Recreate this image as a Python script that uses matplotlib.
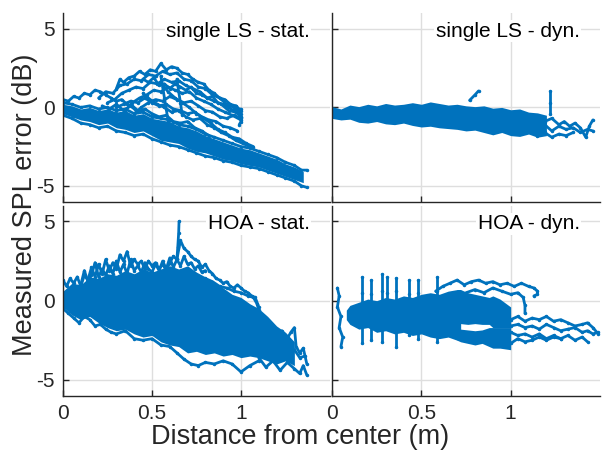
import matplotlib
matplotlib.use("Agg")
import matplotlib.pyplot as plt

plt.rcParams["font.family"] = ["Liberation Sans", "DejaVu Sans"]

BLUE = "#0072BD"

# ---------------- single LS - stat. ----------------
sls_stat_core_x = [0.00, 0.05, 0.10, 0.15, 0.20, 0.25, 0.30, 0.35, 0.40, 0.45, 0.50, 0.55, 0.60, 0.65,
                   0.70, 0.75, 0.80, 0.85, 0.90, 0.95, 1.00, 1.05, 1.10, 1.15, 1.20, 1.25, 1.30, 1.35]
sls_stat_core_hi = [0.2, 0.1, -0.1, 0.0, -0.2, -0.1, -0.3, -0.2, -0.5, -0.4, -0.7, -0.8, -0.9, -1.2,
                    -1.3, -1.5, -1.8, -2.0, -2.2, -2.4, -2.6, -2.7, -2.9, -3.1, -3.3, -3.6, -3.8, -4.1]
sls_stat_core_lo = [-0.4, -0.6, -0.8, -0.9, -1.1, -1.0, -1.3, -1.4, -1.6, -1.5, -1.8, -2.1, -2.2, -2.3,
                    -2.6, -2.8, -2.9, -3.1, -3.3, -3.4, -3.6, -3.7, -3.8, -4.0, -4.2, -4.4, -4.6, -4.8]

sls_stat_traces = [
    # lower band edges
    ([0.00, 0.05, 0.10, 0.15, 0.20, 0.25, 0.30, 0.35, 0.40, 0.45, 0.50, 0.55, 0.60, 0.65, 0.70,
      0.75, 0.80, 0.85, 0.90, 0.95, 1.00, 1.05, 1.10, 1.15, 1.20, 1.25, 1.30, 1.34, 1.37],
     [-0.5, -0.7, -1.0, -1.1, -1.3, -1.2, -1.5, -1.6, -1.8, -1.7, -2.0, -2.2, -2.4, -2.5, -2.7,
      -2.9, -3.1, -3.2, -3.4, -3.5, -3.7, -3.8, -3.9, -4.1, -4.3, -4.5, -4.7, -5.0, -5.1]),
    ([0.00, 0.05, 0.10, 0.15, 0.20, 0.25, 0.30, 0.35, 0.40, 0.45, 0.50, 0.55, 0.60, 0.65, 0.70,
      0.75, 0.80, 0.85, 0.90, 0.95, 1.00, 1.05, 1.10, 1.15, 1.20, 1.25, 1.30, 1.34, 1.37],
     [0.3, 0.2, 0.0, 0.1, -0.1, 0.0, -0.2, -0.1, -0.4, -0.3, -0.6, -0.7, -0.8, -1.1, -1.2,
      -1.4, -1.7, -1.9, -2.1, -2.3, -2.5, -2.6, -2.8, -3.0, -3.2, -3.5, -3.7, -4.0, -4.0]),
    # upper loop
    ([0.30, 0.32, 0.34, 0.37, 0.40, 0.43, 0.46, 0.49, 0.52, 0.55, 0.58, 0.61, 0.64, 0.67, 0.70,
      0.73, 0.76, 0.79, 0.82, 0.85, 0.88, 0.91, 0.94, 0.97, 1.00],
     [1.2, 1.8, 1.6, 1.9, 2.0, 2.3, 2.1, 2.4, 2.3, 2.8, 2.4, 2.6, 2.5, 2.2, 2.1,
      1.8, 1.6, 1.5, 1.1, 0.9, 0.6, 0.5, 0.2, 0.1, -0.2]),
    ([0.20, 0.24, 0.28, 0.32, 0.36, 0.40, 0.44, 0.48, 0.52, 0.56, 0.60, 0.64, 0.68, 0.72, 0.76,
      0.80, 0.84, 0.88, 0.92, 0.96, 1.00],
     [0.6, 1.0, 0.9, 1.4, 1.5, 1.8, 1.7, 2.1, 2.0, 2.3, 2.1, 2.2, 1.8, 1.7, 1.3,
      1.2, 0.8, 0.6, 0.2, 0.0, -0.4]),
    ([0.45, 0.48, 0.51, 0.54, 0.57, 0.60, 0.63, 0.66, 0.69, 0.72, 0.75, 0.78, 0.81, 0.84, 0.87,
      0.90, 0.93, 0.96, 1.00],
     [1.8, 1.6, 1.9, 1.4, 1.5, 1.2, 1.5, 1.3, 1.1, 1.3, 0.9, 0.8, 0.6, 0.7, 0.3,
      0.2, 0.0, -0.2, -0.1]),
    ([0.25, 0.29, 0.33, 0.37, 0.41, 0.45, 0.49, 0.53, 0.57, 0.61, 0.65, 0.69, 0.73, 0.77, 0.81,
      0.85, 0.89, 0.93, 0.97, 1.00],
     [0.3, 0.5, 0.9, 1.1, 1.3, 1.2, 1.6, 1.5, 1.8, 1.6, 1.7, 1.4, 1.2, 1.0, 0.6,
      0.4, 0.2, -0.2, -0.3, -0.6]),
    ([0.35, 0.39, 0.43, 0.47, 0.51, 0.55, 0.59, 0.63, 0.67, 0.71, 0.75, 0.79, 0.83, 0.87, 0.91,
      0.95, 1.00],
     [-0.2, 0.3, 0.6, 0.8, 1.1, 1.0, 1.3, 1.1, 0.9, 1.0, 0.6, 0.4, 0.2, -0.1, -0.3,
      -0.5, -0.8]),
    ([0.40, 0.44, 0.48, 0.52, 0.56, 0.60, 0.64, 0.68, 0.72, 0.76, 0.80, 0.84, 0.88, 0.92, 0.96, 1.00],
     [-0.4, 0.0, 0.3, 0.5, 0.4, 0.7, 0.5, 0.3, 0.4, 0.1, -0.2, -0.3, -0.6, -0.7, -0.5, -0.7]),
    ([0.30, 0.34, 0.38, 0.42, 0.46, 0.50, 0.54, 0.58, 0.62, 0.66, 0.70, 0.74, 0.78, 0.82, 0.86,
      0.90, 0.94, 0.98],
     [0.0, 0.2, 0.4, 0.3, 0.6, 0.3, 0.1, 0.2, -0.1, -0.2, -0.4, -0.3, -0.6, -0.8, -0.9,
      -1.2, -1.3, -1.5]),
    ([0.22, 0.26, 0.30, 0.34, 0.38, 0.42, 0.46, 0.50, 0.54, 0.58, 0.62, 0.66, 0.70, 0.74, 0.78, 0.82],
     [0.1, -0.1, 0.2, -0.2, 0.1, -0.3, -0.1, -0.4, -0.6, -0.5, -0.9, -1.0, -0.9, -1.3, -1.5, -1.8]),
    ([0.45, 0.49, 0.53, 0.57, 0.61, 0.65, 0.69, 0.73, 0.77, 0.81, 0.85, 0.89, 0.93, 0.97, 1.01, 1.05],
     [0.9, 0.5, 0.2, 0.0, -0.3, -0.2, -0.6, -0.8, -0.7, -1.1, -1.3, -1.6, -1.8, -2.1, -2.3, -2.5]),
    ([0.55, 0.59, 0.63, 0.67, 0.71, 0.75, 0.79, 0.83, 0.87, 0.91, 0.95, 0.99, 1.03, 1.07],
     [1.6, 1.0, 0.6, 0.3, 0.0, -0.4, -0.7, -1.0, -1.4, -1.6, -1.9, -2.0, -2.3, -2.5]),
    ([0.00, 0.03, 0.06, 0.09, 0.12, 0.15, 0.18, 0.21, 0.24, 0.27, 0.30, 0.33, 0.36, 0.39, 0.42],
     [0.5, 0.4, 0.7, 0.6, 0.9, 0.8, 1.1, 1.0, 0.8, 0.6, 0.4, 0.5, 0.2, 0.1, -0.2]),
    ([0.55, 0.56, 0.57, 0.58, 0.59, 0.60], [2.0, 1.3, 0.6, -0.1, -0.8, -1.4]),
    ([0.64, 0.65, 0.66, 0.67], [1.8, 1.0, 0.3, -0.5]),
    ([0.97, 0.99, 1.00, 1.00, 0.99], [0.1, -0.3, -0.6, -0.9, -1.1]),
]

# ---------------- single LS - dyn. ----------------
sls_dyn_core_x = [0.00, 0.05, 0.10, 0.15, 0.20, 0.25, 0.30, 0.35, 0.40, 0.45, 0.50, 0.55, 0.60,
                  0.65, 0.70, 0.75, 0.80, 0.85, 0.90, 0.95, 1.00, 1.05, 1.10, 1.15, 1.20]
sls_dyn_core_hi = [0.05, -0.10, 0.15, 0.05, 0.20, 0.10, 0.25, 0.15, 0.20, 0.30, 0.20, 0.35, 0.25,
                   0.15, 0.20, 0.10, 0.05, 0.10, -0.05, 0.00, -0.15, -0.10, -0.30, -0.35, -0.50]
sls_dyn_core_lo = [-0.70, -0.80, -0.75, -0.95, -1.00, -0.90, -1.05, -1.10, -1.00, -1.15, -1.25, -1.20, -1.30,
                   -1.35, -1.40, -1.50, -1.45, -1.60, -1.75, -1.60, -1.80, -1.85, -1.70, -1.90, -1.80]

sls_dyn_traces = [
    ([1.15, 1.19, 1.23, 1.27, 1.30, 1.33, 1.36, 1.39, 1.42, 1.44, 1.46],
     [-0.6, -0.9, -0.7, -1.1, -0.9, -1.2, -1.0, -1.3, -1.9, -1.2, -0.8]),
    ([1.15, 1.19, 1.23, 1.27, 1.31, 1.35, 1.39, 1.43, 1.46],
     [-1.3, -1.1, -1.5, -1.2, -1.4, -1.3, -1.6, -1.4, -1.5]),
    ([1.15, 1.19, 1.23, 1.27, 1.31, 1.35],
     [-1.8, -1.6, -1.9, -1.7, -1.8, -1.6]),
    ([0.77, 0.80, 0.82], [0.45, 0.80, 1.05]),
    ([1.22, 1.22, 1.22], [1.05, 0.30, -0.40]),
]

# ---------------- HOA - stat. ----------------
hoa_stat_core_x = [0.00, 0.05, 0.10, 0.15, 0.20, 0.25, 0.30, 0.35, 0.40, 0.45, 0.50, 0.55, 0.60, 0.65,
                   0.70, 0.75, 0.80, 0.85, 0.90, 0.95, 1.00, 1.05, 1.10, 1.15, 1.20, 1.25, 1.30]
hoa_stat_core_hi = [0.6, 1.1, 1.0, 1.5, 1.4, 1.7, 1.6, 1.9, 1.7, 2.0, 1.8, 2.0, 2.2, 2.0,
                    2.2, 1.8, 1.5, 1.1, 0.8, 0.4, 0.2, -0.2, -0.5, -1.0, -1.6, -2.0, -2.6]
hoa_stat_core_lo = [-0.4, -0.9, -1.2, -1.0, -1.4, -1.7, -1.9, -1.8, -2.1, -2.3, -2.2, -2.6, -2.8, -2.9,
                    -3.3, -3.2, -3.4, -3.3, -3.5, -3.4, -3.6, -3.5, -3.6, -3.8, -4.0, -3.8, -4.1]

hoa_stat_traces = [
    ([0.00, 0.02, 0.04, 0.06, 0.08, 0.10, 0.12, 0.14, 0.16, 0.18, 0.20, 0.22, 0.24, 0.26, 0.28, 0.30,
      0.32, 0.34, 0.36, 0.38, 0.40, 0.42, 0.44, 0.46, 0.48, 0.50, 0.52, 0.54, 0.56, 0.58, 0.60],
     [1.3, 0.9, 1.4, 1.1, 1.5, 0.9, 1.6, 1.3, 2.1, 1.5, 2.3, 1.7, 2.6, 1.9, 2.4, 2.0,
      2.9, 2.5, 3.1, 2.2, 2.6, 2.3, 2.5, 2.0, 2.5, 2.2, 2.4, 2.0, 2.3, 1.9, 2.4]),
    ([0.10, 0.12, 0.14, 0.16, 0.18, 0.20, 0.22, 0.24, 0.26, 0.28, 0.30, 0.32, 0.34, 0.36, 0.38, 0.40,
      0.42, 0.44, 0.46, 0.48, 0.50, 0.52, 0.54, 0.56, 0.58, 0.60, 0.62, 0.64, 0.66, 0.68, 0.70, 0.72,
      0.74, 0.76, 0.78, 0.80],
     [1.0, 1.9, 1.2, 1.6, 2.4, 1.5, 2.0, 1.6, 2.2, 1.7, 2.5, 1.8, 2.3, 1.7, 2.6, 1.9,
      2.2, 1.8, 2.4, 2.0, 1.8, 2.3, 1.9, 2.5, 2.0, 2.7, 2.1, 2.6, 2.2, 2.8, 2.3, 2.4,
      2.0, 2.2, 1.8, 1.9]),
    ([0.60, 0.62, 0.64, 0.66, 0.68, 0.70, 0.72, 0.74, 0.76, 0.78, 0.80, 0.82, 0.84, 0.86, 0.88, 0.90,
      0.92, 0.94, 0.96, 0.98, 1.00, 1.02, 1.04, 1.06, 1.08, 1.10],
     [2.4, 2.8, 2.6, 3.8, 3.3, 3.1, 2.8, 2.6, 2.5, 2.1, 2.3, 1.9, 1.7, 1.4, 1.3, 1.1,
      1.2, 0.9, 0.8, 1.0, 0.8, 0.6, 0.5, 0.3, 0.2, -0.4]),
    ([0.640, 0.645, 0.650, 0.652], [2.6, 3.4, 4.3, 5.0]),
    ([0.80, 0.84, 0.88, 0.92, 0.96, 1.00, 1.04, 1.07, 1.09, 1.10, 1.11],
     [1.4, 1.2, 0.9, 0.8, 0.6, 0.5, 0.3, 0.2, -0.2, -0.6, -1.0]),
    ([1.05, 1.08, 1.11, 1.14, 1.17, 1.20, 1.23, 1.26, 1.28, 1.30, 1.31, 1.33, 1.35, 1.37],
     [-0.8, -1.2, -1.0, -1.7, -1.5, -2.1, -1.9, -2.4, -2.0, -1.7, -2.9, -3.3, -3.0, -4.0]),
    ([1.10, 1.14, 1.18, 1.22, 1.26, 1.30, 1.33, 1.35, 1.37],
     [-3.6, -4.2, -3.8, -4.4, -3.9, -4.3, -4.6, -4.1, -4.7]),
    ([1.15, 1.19, 1.23, 1.27, 1.30, 1.33, 1.36],
     [-2.6, -3.0, -2.8, -3.3, -3.1, -3.6, -3.5]),
    ([0.00, 0.03, 0.06, 0.09, 0.12, 0.15, 0.18, 0.21, 0.24, 0.27, 0.30, 0.35, 0.40, 0.45,
      0.50, 0.55, 0.60, 0.64, 0.68, 0.72, 0.76, 0.80, 0.85, 0.90, 0.95, 1.00, 1.05, 1.10],
     [-0.5, -0.8, -1.1, -1.4, -1.0, -1.2, -1.6, -1.5, -1.8, -2.0, -2.1, -1.9, -2.4, -2.5,
      -2.4, -2.8, -2.9, -3.3, -3.7, -4.0, -4.1, -3.9, -4.0, -3.8, -4.0, -4.5, -4.1, -3.8]),
]

# ---------------- HOA - dyn. ----------------
hoa_dyn_core_x = [0.08, 0.10, 0.15, 0.20, 0.25, 0.30, 0.35, 0.40, 0.45, 0.50, 0.55, 0.60, 0.65, 0.70, 0.72]
hoa_dyn_core_hi = [-0.6, -0.3, -0.1, 0.1, 0.0, 0.2, 0.1, 0.3, 0.2, 0.4, 0.5, 0.4, 0.6, 0.7, 0.7]
hoa_dyn_core_lo = [-1.2, -1.5, -1.8, -1.7, -2.0, -1.9, -2.1, -2.0, -2.2, -2.1, -2.3, -2.4, -2.3, -2.5, -2.5]
# right part of the core, split around the small gap near y = -1.6
hoa_dyn_right_x = [0.70, 0.72, 0.76, 0.80, 0.84, 0.88, 0.90, 0.94, 1.00]
hoa_dyn_right_hi = [0.7, 0.7, 0.5, 0.4, 0.3, 0.2, 0.3, 0.1, -0.4]
hoa_dyn_right_mid_hi = [-1.6, -1.45, -1.5, -1.45, -1.5, -1.5, -1.7, -1.7, -1.7]
hoa_dyn_right_mid_lo = [-1.6, -1.8, -1.85, -1.9, -1.85, -1.7, -1.7, -1.7, -1.7]
hoa_dyn_right_lo = [-2.5, -2.6, -2.7, -2.8, -2.7, -2.9, -3.0, -3.0, -3.1]

hoa_dyn_traces = [
    ([0.03, 0.04, 0.03, 0.05, 0.04, 0.06, 0.05], [0.8, 0.3, -0.4, -1.0, -1.7, -2.3, -2.9]),
    ([0.17, 0.17, 0.17, 0.17], [1.5, 0.5, -1.5, -2.7]),
    ([0.22, 0.22, 0.22, 0.22], [1.3, 0.4, -1.6, -2.5]),
    ([0.28, 0.28, 0.28, 0.28], [1.7, 0.6, -1.8, -2.6]),
    ([0.31, 0.31, 0.31], [1.5, 0.5, -1.2]),
    ([0.36, 0.36, 0.36], [1.4, 0.6, -2.9]),
    ([0.43, 0.43, 0.43], [1.3, 0.4, -2.2]),
    ([0.48, 0.48, 0.48], [1.3, 0.5, -2.4]),
    ([0.59, 0.59, 0.59], [1.5, 0.6, -2.6]),
    ([0.58, 0.62, 0.66, 0.70, 0.74, 0.78, 0.82, 0.86, 0.90, 0.94, 0.98, 1.02, 1.06, 1.10, 1.13, 1.15, 1.15, 1.13],
     [0.6, 0.9, 1.1, 1.3, 1.0, 1.2, 1.3, 1.1, 1.2, 1.0, 1.1, 0.9, 1.1, 0.9, 0.8, 0.6, 0.4, 0.3]),
    ([0.75, 0.80, 0.85, 0.90, 0.95, 1.00, 1.04, 1.07, 1.08, 1.08],
     [0.5, 0.7, 0.5, 0.8, 0.6, 0.4, 0.5, 0.2, -0.3, -0.8]),
    ([1.00, 1.04, 1.08, 1.12, 1.16, 1.20, 1.24, 1.28, 1.32, 1.36, 1.40, 1.43, 1.46, 1.49],
     [-1.2, -1.0, -1.3, -1.1, -1.2, -1.0, -1.3, -1.2, -1.4, -1.6, -1.5, -1.4, -1.7, -2.1]),
    ([1.00, 1.04, 1.08, 1.12, 1.16, 1.20, 1.24, 1.28, 1.32, 1.36, 1.40, 1.43, 1.46, 1.49],
     [-1.6, -1.5, -1.7, -1.6, -1.8, -1.5, -1.7, -1.9, -1.8, -1.7, -2.0, -1.9, -2.1, -2.0]),
    ([1.00, 1.04, 1.08, 1.12, 1.16, 1.20, 1.24, 1.28, 1.32, 1.36, 1.40, 1.43],
     [-2.0, -2.2, -2.1, -2.3, -2.1, -2.4, -2.2, -2.4, -2.2, -2.5, -2.3, -2.6]),
    ([1.00, 1.04, 1.08, 1.12, 1.16, 1.20, 1.24, 1.28],
     [-2.7, -2.4, -2.6, -2.5, -2.3, -2.5, -2.3, -2.4]),
]

panel_titles = ["single LS - stat.", "single LS - dyn.", "HOA - stat.", "HOA - dyn."]
x_ticks = [0, 0.5, 1]
x_tick_labels = ["0", "0.5", "1"]
y_ticks = [-5, 0, 5]
y_tick_labels = ["-5", "0", "5"]

fig = plt.figure(figsize=(6.04, 4.59), dpi=100)
positions = [
    [0.1043, 0.561, 0.442, 0.410],
    [0.5497, 0.561, 0.4437, 0.410],
    [0.1043, 0.138, 0.442, 0.414],
    [0.5497, 0.138, 0.4437, 0.414],
]
cores = [
    (sls_stat_core_x, sls_stat_core_lo, sls_stat_core_hi),
    (sls_dyn_core_x, sls_dyn_core_lo, sls_dyn_core_hi),
    (hoa_stat_core_x, hoa_stat_core_lo, hoa_stat_core_hi),
    (hoa_dyn_core_x, hoa_dyn_core_lo, hoa_dyn_core_hi),
]
traces = [sls_stat_traces, sls_dyn_traces, hoa_stat_traces, hoa_dyn_traces]

axes = []
for i in range(4):
    ax = fig.add_axes(positions[i])
    axes.append(ax)
    cx, clo, chi = cores[i]
    ax.fill_between(cx, clo, chi, color=BLUE, lw=0)
    for tx, ty in traces[i]:
        ax.plot(tx, ty, color=BLUE, lw=2.0, marker=".", ms=3, solid_capstyle="round",
                solid_joinstyle="round")
    ax.set_xlim(0, 1.5)
    ax.set_ylim(-6, 6)
    ax.set_xticks(x_ticks)
    ax.set_yticks(y_ticks)
    ax.set_xticklabels(x_tick_labels if i >= 2 else [])
    ax.set_yticklabels(y_tick_labels if i % 2 == 0 else [])
    ax.grid(True, color="#dedede", lw=1)
    ax.set_axisbelow(True)
    for s in ["top", "right"]:
        ax.spines[s].set_visible(False)
    for s in ["left", "bottom"]:
        ax.spines[s].set_color("#262626")
        ax.spines[s].set_linewidth(1.0)
    ax.tick_params(direction="in", length=4, width=1, colors="#262626",
                   labelsize=15, labelcolor="#262626", pad=6)
    ax.text(0.925, 0.905, panel_titles[i], transform=ax.transAxes, ha="right", va="center",
            fontsize=15, color="black",
            bbox=dict(facecolor="white", edgecolor="none", pad=1))

# HOA - dyn.: right part of the cloud, above and below the gap
axes[3].fill_between(hoa_dyn_right_x, hoa_dyn_right_mid_hi, hoa_dyn_right_hi, color=BLUE, lw=0)
axes[3].fill_between(hoa_dyn_right_x, hoa_dyn_right_lo, hoa_dyn_right_mid_lo, color=BLUE, lw=0)

fig.text(0.041, 0.553, "Measured SPL error (dB)", rotation=90, ha="center", va="center",
         fontsize=19.5, color="#262626")
fig.text(0.497, 0.048, "Distance from center (m)", ha="center", va="center",
         fontsize=19.5, color="#262626")

fig.savefig("out.png", dpi=100)
